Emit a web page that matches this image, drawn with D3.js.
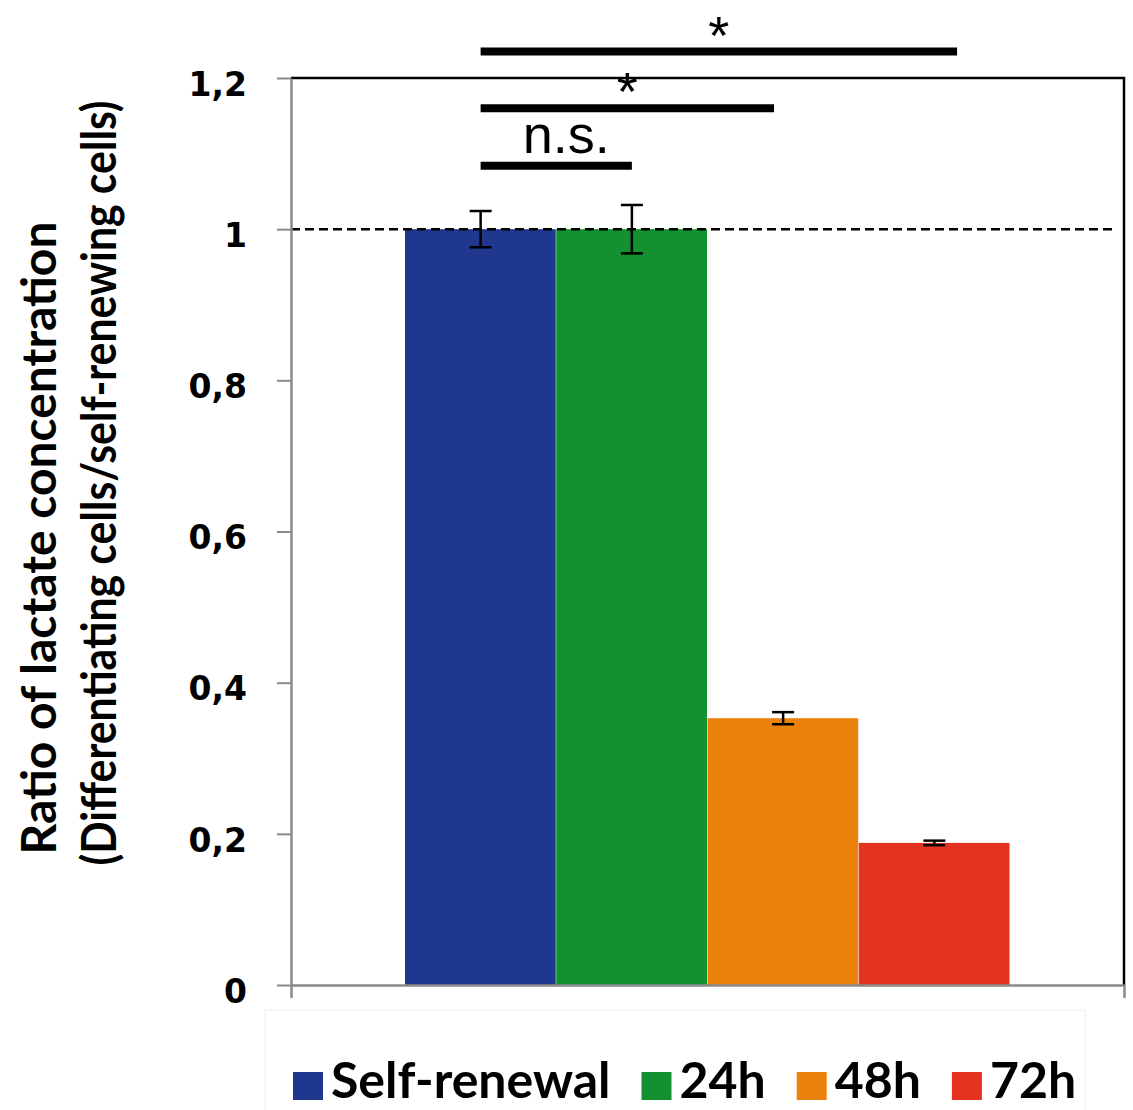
<!DOCTYPE html>
<html>
<head>
<meta charset="utf-8">
<script src="https://cdn.jsdelivr.net/npm/d3@7"></script>
<style>
    body { margin: 0; background: #fff; }
    svg { display: block; }
</style>
</head>
<body>
<svg></svg>
<script>
// values
var categories = ["Self-renewal", "24h", "48h", "72h"];
var values = [1.0, 1.0, 0.353, 0.188];
var errors = [0.024, 0.032, 0.008, 0.003];
var colors = ["#1f378c", "#139130", "#ea820c", "#e33220"];
var yTicks = [0, 0.2, 0.4, 0.6, 0.8, 1, 1.2];
var refValue = 1;

// significance brackets: ends in category units, height in data units
var bracketFrom = [0.5, 0.5, 0.5];
var bracketTo = [1.5, 2.44, 3.65];
var bracketLevel = [1.084, 1.16, 1.235];
var bracketLabels = ["n.s.", "*", "*"];

var titleLines = ["Ratio of lactate concentration", "(Differentiating cells/self-renewing cells)"];

var W = 1133, H = 1110;
var plot = {left: 291, top: 78, right: 1124, bottom: 985};
var barsLeft = 405, barsRight = 1010;

var svg = d3.select("svg").attr("width", W).attr("height", H);

var y = d3.scaleLinear().domain([0, 1.2]).range([plot.bottom, plot.top]);
var x = d3.scaleBand().domain(categories).range([barsLeft, barsRight]).padding(0);
var xc = d3.scaleLinear().domain([0, categories.length]).range([barsLeft, barsRight]);

var locale = d3.formatLocale({decimal: ",", thousands: ".", grouping: [3], currency: ["", ""]});
var fmt = locale.format("~g");

// very faint legend frame, as in the source
svg.append("rect")
    .attr("x", 265).attr("y", 1010).attr("width", 820).attr("height", 130)
    .attr("fill", "none").attr("stroke", "#f7f7f7").attr("stroke-width", 2);

// bars
svg.selectAll(".bar")
    .data(categories)
    .enter().append("rect")
    .attr("class", "bar")
    .attr("x", function (d) { return x(d); })
    .attr("y", function (d, i) { return y(values[i]); })
    .attr("width", x.bandwidth() - 0.5)
    .attr("height", function (d, i) { return y(0) - y(values[i]); })
    .attr("fill", function (d, i) { return colors[i]; });

// reference line at 1
svg.append("line")
    .attr("x1", plot.left).attr("x2", plot.right - 10)
    .attr("y1", y(refValue)).attr("y2", y(refValue))
    .attr("stroke", "#000").attr("stroke-width", 2.5)
    .attr("stroke-dasharray", "9,5");

// error bars
var eb = svg.selectAll(".err")
    .data(categories)
    .enter().append("g")
    .attr("class", "err")
    .attr("stroke", "#000").attr("stroke-width", 2.5);
eb.append("line")
    .attr("x1", function (d) { return x(d) + x.bandwidth() / 2; })
    .attr("x2", function (d) { return x(d) + x.bandwidth() / 2; })
    .attr("y1", function (d, i) { return y(values[i] + errors[i]); })
    .attr("y2", function (d, i) { return y(values[i] - errors[i]); });
[1, -1].forEach(function (s) {
    eb.append("line")
        .attr("x1", function (d) { return x(d) + x.bandwidth() / 2 - 11; })
        .attr("x2", function (d) { return x(d) + x.bandwidth() / 2 + 11; })
        .attr("y1", function (d, i) { return y(values[i] + s * errors[i]); })
        .attr("y2", function (d, i) { return y(values[i] + s * errors[i]); });
});

// top and right border
svg.append("path")
    .attr("d", "M" + plot.left + "," + plot.top + "H" + plot.right + "V" + plot.bottom)
    .attr("fill", "none").attr("stroke", "#000").attr("stroke-width", 2.5);

// y axis
var yAxis = svg.append("g")
    .attr("class", "axis axis--y")
    .attr("transform", "translate(" + plot.left + ",0)")
    .call(d3.axisLeft(y).tickValues(yTicks).tickFormat(fmt).tickSize(14).tickSizeOuter(0).tickPadding(30));
yAxis.select(".domain").attr("stroke", "#8a8a8a").attr("stroke-width", 2.5);
yAxis.selectAll(".tick line").attr("stroke", "#8a8a8a").attr("stroke-width", 2);
yAxis.selectAll(".tick text")
    .attr("dy", "0.52em")
    .attr("fill", "#000")
    .style("font-family", "'DejaVu Sans', Verdana, sans-serif")
    .style("font-weight", "bold")
    .style("font-size", "33px");

// x axis (no labels, only end ticks)
var xAxisScale = d3.scaleLinear().domain([0, 1]).range([plot.left, plot.right]);
var xAxis = svg.append("g")
    .attr("class", "axis axis--x")
    .attr("transform", "translate(0," + plot.bottom + ")")
    .call(d3.axisBottom(xAxisScale).tickValues([0, 1]).tickFormat("").tickSize(13).tickSizeOuter(0));
xAxis.select(".domain").attr("stroke", "#8a8a8a").attr("stroke-width", 2.5);
xAxis.selectAll(".tick line").attr("stroke", "#8a8a8a").attr("stroke-width", 2.5);

// y title
var titleX = [56, 116], titleY = [538, 483], titleLen = [633, 765];
titleLines.forEach(function (t, i) {
    svg.append("text")
        .attr("transform", "translate(" + titleX[i] + "," + titleY[i] + ") rotate(-90)")
        .attr("text-anchor", "middle")
        .attr("textLength", titleLen[i])
        .attr("lengthAdjust", "spacingAndGlyphs")
        .style("font-family", "Lato, 'Open Sans', sans-serif")
        .style("font-weight", "bold")
        .style("font-size", "47px")
        .text(t);
});

// significance brackets
bracketLabels.forEach(function (lab, i) {
    var x1 = xc(bracketFrom[i]), x2 = xc(bracketTo[i]), yy = y(bracketLevel[i]);
    svg.append("line")
        .attr("x1", x1).attr("x2", x2)
        .attr("y1", yy).attr("y2", yy)
        .attr("stroke", "#000").attr("stroke-width", 8);
    svg.append("text")
        .attr("x", (x1 + x2) / 2 + (lab === "*" ? 0 : 10))
        .attr("y", yy - (lab === "*" ? -2 : 13))
        .attr("text-anchor", "middle")
        .style("font-family", "'Liberation Sans', Arial, sans-serif")
        .style("font-size", "54px")
        .text(lab);
});

// legend
var lg = svg.append("g").attr("class", "legend");
var lx = 293;
categories.forEach(function (c, i) {
    lg.append("rect")
        .attr("x", lx).attr("y", 1072)
        .attr("width", 30).attr("height", 28)
        .attr("fill", colors[i]);
    var t = lg.append("text")
        .attr("x", lx + 38).attr("y", 1098)
        .style("font-family", "Lato, 'Open Sans', sans-serif")
        .style("font-weight", "bold")
        .style("font-size", "50px")
        .text(c);
    lx += 38 + t.node().getComputedTextLength() + 31;
});
</script>
</body>
</html>
